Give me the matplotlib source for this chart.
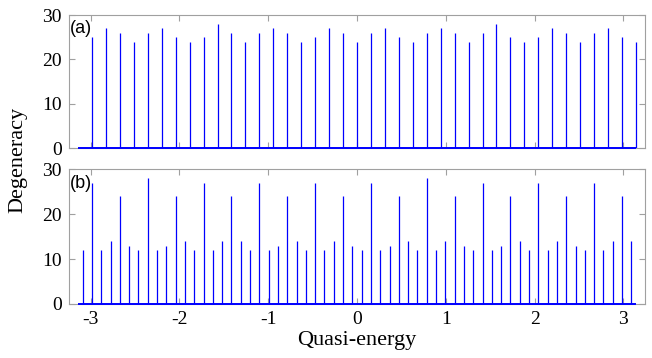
import numpy as np
import matplotlib.pyplot as plt

# Degeneracy of each quasi-energy level
# panel (a): 40 levels at k*pi/20, k = -19..20
deg_a = [25, 27, 26, 24, 26, 27, 25, 24, 25, 28, 26, 24, 26, 27, 26, 24, 25, 27, 26, 24,
         26, 27, 25, 24, 26, 27, 26, 24, 26, 28, 25, 24, 25, 27, 26, 24, 26, 27, 25, 24]
# panel (b): 60 levels at (k+0.5)*pi/30, k = -30..29
deg_b = [12, 27, 12, 14, 24, 13, 12, 28, 12, 13, 24, 14, 12, 27, 12, 14, 24, 14, 12, 27,
         12, 13, 24, 14, 12, 27, 12, 14, 24, 13, 12, 27, 12, 13, 24, 14, 12, 28, 12, 14,
         24, 13, 12, 27, 12, 13, 24, 14, 12, 27, 12, 14, 24, 13, 12, 27, 12, 14, 24, 14]
energy_a = np.arange(-19, 21) * np.pi / 20
energy_b = (np.arange(-30, 30) + 0.5) * np.pi / 30

panel_labels = ["(a)", "(b)"]
xticks = [-3, -2, -1, 0, 1, 2, 3]
yticks = [0, 10, 20, 30]

plt.rcParams['font.family'] = ['Liberation Serif', 'DejaVu Serif']
frame_color = "#a0a0a0"

fig = plt.figure(figsize=(6.52, 3.58), dpi=100)
ax_a = fig.add_axes([69 / 652, 1 - 148.3 / 358, 576 / 652, 133.3 / 358])
ax_b = fig.add_axes([69 / 652, 1 - 304 / 358, 576 / 652, 134.7 / 358])

for ax, x, y, lab in [(ax_a, energy_a, deg_a, panel_labels[0]),
                      (ax_b, energy_b, deg_b, panel_labels[1])]:
    ax.vlines(x, 0, y, color="blue", lw=0.9, zorder=3)
    ax.hlines(0, -np.pi, np.pi, color="blue", lw=1.4, zorder=4, clip_on=False)
    ax.set_xlim(-3.243, 3.243)
    ax.set_ylim(0, 30)
    ax.set_xticks(xticks)
    ax.set_yticks(yticks)
    ax.tick_params(direction="in", length=4, width=0.8, color=frame_color,
                   top=True, right=True, labelsize=14, pad=5)
    for s in ax.spines.values():
        s.set_color(frame_color)
        s.set_linewidth(0.8)
    ax.text(0.002, 0.96, lab, transform=ax.transAxes, ha="left", va="top",
            fontsize=13, family="Liberation Sans")

ax_a.set_xticklabels([])
ax_b.set_xticklabels([str(t) for t in xticks])
ax_b.set_xlabel("Quasi-energy", fontsize=16, labelpad=2)
fig.text(0.028, (1 - 15 / 358 + 1 - 304 / 358) / 2, "Degeneracy", rotation=90,
         ha="center", va="center", fontsize=16)

fig.savefig("out.png", dpi=100)
